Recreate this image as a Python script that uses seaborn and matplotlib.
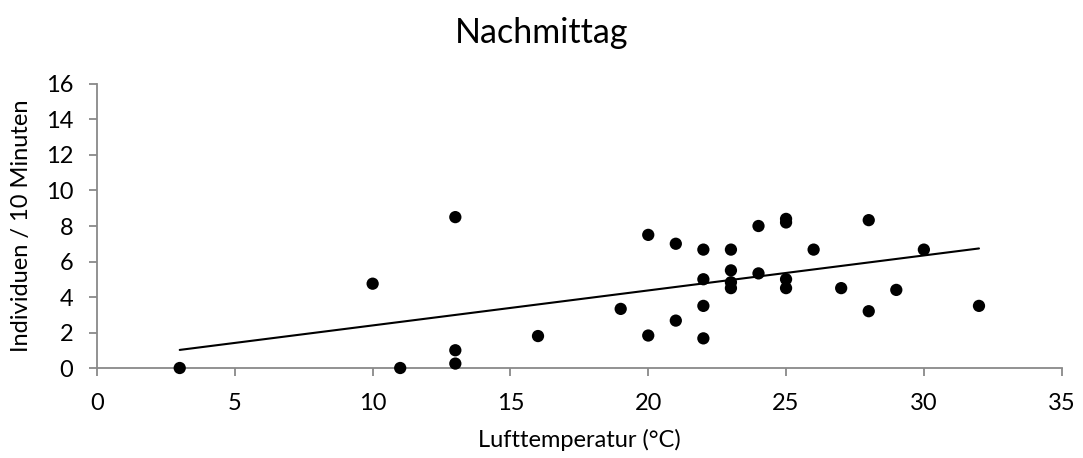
import matplotlib
matplotlib.use("Agg")
import matplotlib.pyplot as plt
import seaborn as sns
import pandas as pd

# Afternoon counts: air temperature (°C) vs. individuals per 10 minutes
temperatur = [3, 10, 11, 13, 13, 13, 16, 19, 20, 20, 21, 21,
              22, 22, 22, 22, 23, 23, 23, 23, 24, 24,
              25, 25, 25, 25, 26, 27, 28, 28, 29, 30, 32]
individuen = [0.0, 4.75, 0.0, 8.5, 1.0, 0.25, 1.8, 3.33, 7.5, 1.83, 7.0, 2.67,
              6.67, 5.0, 3.5, 1.67, 6.67, 5.5, 4.83, 4.5, 8.0, 5.33,
              8.4, 8.2, 5.0, 4.5, 6.67, 4.5, 8.33, 3.2, 4.4, 6.67, 3.5]

x_ticks = [0, 5, 10, 15, 20, 25, 30, 35]
y_ticks = [0, 2, 4, 6, 8, 10, 12, 14, 16]

df = pd.DataFrame({"Lufttemperatur": temperatur, "Individuen": individuen})

sns.set_theme(style="white")
plt.rcParams["font.family"] = ["Lato", "DejaVu Sans"]

axis_grey = "#898989"

fig = plt.figure(figsize=(10.83, 4.58), dpi=100)
ax = fig.add_axes([0.0896, 0.1965, 0.8907, 0.6201])

sns.regplot(
    data=df, x="Lufttemperatur", y="Individuen", ax=ax, ci=None,
    truncate=True,
    scatter_kws={"s": 78, "color": "black", "alpha": 1.0,
                 "edgecolors": "none", "zorder": 3, "clip_on": False},
    line_kws={"color": "black", "linewidth": 1.5, "zorder": 2},
)

ax.set_xlim(0, 35)
ax.set_ylim(0, 16)
ax.set_xticks(x_ticks)
ax.set_yticks(y_ticks)
ax.set_xticklabels([str(t) for t in x_ticks])
ax.set_yticklabels([str(t) for t in y_ticks])

for side in ("top", "right"):
    ax.spines[side].set_visible(False)
for side in ("left", "bottom"):
    ax.spines[side].set_color(axis_grey)
    ax.spines[side].set_linewidth(1.3)
    ax.spines[side].set_zorder(1)

ax.tick_params(axis="x", direction="out", length=6, width=1.3, color=axis_grey,
               labelsize=17, pad=12, labelcolor="black", bottom=True)
ax.tick_params(axis="y", direction="out", length=6, width=1.3, color=axis_grey,
               labelsize=17, pad=11, labelcolor="black", left=True)

ax.set_xlabel("Lufttemperatur (°C)", fontsize=17, labelpad=11, color="black")
ax.set_ylabel("Individuen / 10 Minuten", fontsize=17, labelpad=10, color="black")
ax.grid(False)

fig.suptitle("Nachmittag", fontsize=24.5, y=0.962, color="black")

fig.savefig("out.png", dpi=100, facecolor="white")
